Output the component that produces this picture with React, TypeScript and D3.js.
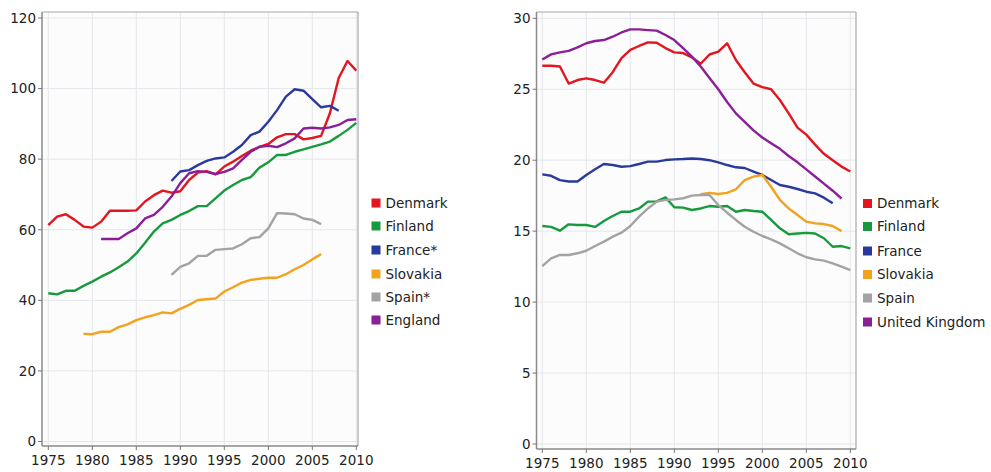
import React from "react";
import * as d3 from "d3";

const YEARS_ALL: number[] = d3.range(1975, 2011);

// Left chart series (start year + values)
const leftDenmarkStart = 1975;
const leftDenmark = [61.3, 63.7, 64.4, 62.8, 60.9, 60.6, 62.3, 65.4, 65.4, 65.4, 65.5, 68, 69.8, 71.1, 70.5, 70.9, 74.1, 76.2, 76.6, 75.7, 77.9, 79.3, 80.9, 82.4, 83.5, 84.3, 86.2, 87.1, 87.1, 85.6, 86, 86.6, 93, 103, 107.8, 105.1];
const leftFinlandStart = 1975;
const leftFinland = [42, 41.7, 42.7, 42.7, 44.1, 45.3, 46.7, 47.9, 49.4, 51, 53.3, 56.3, 59.5, 61.8, 62.8, 64.2, 65.3, 66.7, 66.7, 68.9, 71.1, 72.7, 74.1, 74.9, 77.6, 79.1, 81.2, 81.2, 82.1, 82.8, 83.5, 84.2, 85, 86.6, 88.3, 90.3];
const leftFranceStart = 1989;
const leftFrance = [73.8, 76.5, 76.9, 78.3, 79.5, 80.2, 80.5, 82.1, 84, 86.8, 87.8, 90.6, 93.9, 97.7, 99.8, 99.4, 97, 94.7, 95.1, 93.7];
const leftSlovakiaStart = 1979;
const leftSlovakia = [30.5, 30.4, 31.1, 31.1, 32.4, 33.2, 34.4, 35.2, 35.8, 36.6, 36.3, 37.6, 38.7, 40.1, 40.3, 40.5, 42.5, 43.7, 45, 45.8, 46.1, 46.4, 46.4, 47.4, 48.8, 50, 51.6, 53.1];
const leftSpainStart = 1989;
const leftSpain = [47.2, 49.5, 50.5, 52.6, 52.6, 54.3, 54.5, 54.7, 55.9, 57.6, 57.9, 60.4, 64.7, 64.6, 64.4, 63.2, 62.8, 61.6];
const leftEnglandStart = 1981;
const leftEngland = [57.4, 57.4, 57.4, 59, 60.4, 63.2, 64.2, 66.5, 69.4, 73.2, 76, 76.6, 76.4, 75.8, 76.4, 77.4, 79.8, 82.1, 83.5, 83.8, 83.4, 84.5, 85.9, 88.7, 88.9, 88.7, 89, 89.7, 91.1, 91.3];

// Right chart series
const rightDenmark = [26.66, 26.66, 26.6, 25.4, 25.65, 25.77, 25.65, 25.46, 26.2, 27.2, 27.77, 28.05, 28.3, 28.28, 27.9, 27.6, 27.55, 27.25, 26.8, 27.45, 27.65, 28.24, 27.06, 26.2, 25.4, 25.15, 25.0, 24.24, 23.3, 22.3, 21.8, 21.1, 20.45, 20.0, 19.55, 19.2];
const rightFinland = [15.36, 15.3, 15.03, 15.48, 15.43, 15.43, 15.3, 15.71, 16.07, 16.37, 16.37, 16.6, 17.08, 17.1, 17.38, 16.68, 16.66, 16.49, 16.6, 16.77, 16.72, 16.77, 16.37, 16.49, 16.42, 16.37, 15.79, 15.2, 14.78, 14.83, 14.88, 14.83, 14.5, 13.9, 13.95, 13.79];
const rightFranceStart = 1975;
const rightFrance = [19.0, 18.9, 18.6, 18.5, 18.5, 18.96, 19.36, 19.73, 19.66, 19.54, 19.58, 19.73, 19.9, 19.9, 20.01, 20.06, 20.08, 20.12, 20.08, 20.0, 19.85, 19.66, 19.5, 19.45, 19.2, 18.96, 18.6, 18.25, 18.13, 17.97, 17.78, 17.66, 17.36, 16.96];
const rightSlovakiaStart = 1993;
const rightSlovakia = [17.6, 17.7, 17.62, 17.7, 17.95, 18.6, 18.84, 18.96, 18.13, 17.2, 16.6, 16.14, 15.67, 15.55, 15.5, 15.36, 15.0];
const rightSpain = [12.54, 13.08, 13.32, 13.32, 13.44, 13.62, 13.95, 14.26, 14.61, 14.89, 15.36, 16.02, 16.6, 17.08, 17.2, 17.24, 17.32, 17.5, 17.55, 17.55, 16.84, 16.3, 15.79, 15.31, 14.96, 14.66, 14.42, 14.14, 13.79, 13.44, 13.16, 13.01, 12.92, 12.73, 12.5, 12.26];
const rightUK = [27.1, 27.46, 27.6, 27.7, 27.95, 28.24, 28.4, 28.47, 28.7, 29.0, 29.22, 29.22, 29.17, 29.13, 28.82, 28.47, 27.9, 27.3, 26.6, 25.8, 25.0, 24.1, 23.3, 22.7, 22.1, 21.6, 21.2, 20.8, 20.3, 19.85, 19.35, 18.85, 18.35, 17.85, 17.3];

const xTicks = [1975, 1980, 1985, 1990, 1995, 2000, 2005, 2010];
const leftYTicks = [0, 20, 40, 60, 80, 100, 120];
const rightYTicks = [0, 5, 10, 15, 20, 25, 30];

const leftLegend = ["Denmark", "Finland", "France*", "Slovakia", "Spain*", "England"];
const rightLegend = ["Denmark", "Finland", "France", "Slovakia", "Spain", "United Kingdom"];

const COLORS = ["#e3161f", "#179a3e", "#2a3a9c", "#f2a21e", "#a3a3a3", "#8a1f98"];

type Series = { start: number; values: number[] };

const leftSeries: Series[] = [
  { start: leftDenmarkStart, values: leftDenmark },
  { start: leftFinlandStart, values: leftFinland },
  { start: leftFranceStart, values: leftFrance },
  { start: leftSlovakiaStart, values: leftSlovakia },
  { start: leftSpainStart, values: leftSpain },
  { start: leftEnglandStart, values: leftEngland },
];
const rightSeries: Series[] = [
  { start: 1975, values: rightDenmark },
  { start: 1975, values: rightFinland },
  { start: rightFranceStart, values: rightFrance },
  { start: rightSlovakiaStart, values: rightSlovakia },
  { start: 1975, values: rightSpain },
  { start: 1975, values: rightUK },
];

const FONT = "'DejaVu Sans', Verdana, sans-serif";

type PanelProps = {
  series: Series[];
  legend: string[];
  yTicks: number[];
  yMax: number;
  frame: { left: number; right: number; top: number; bottom: number };
  xRange: [number, number];
  yRange: [number, number];
  legendX: number;
  legendY: number[];
};

function Panel(p: PanelProps) {
  const x = d3.scaleLinear().domain([1975, 2010]).range(p.xRange);
  const y = d3.scaleLinear().domain([0, p.yMax]).range(p.yRange);
  const line = d3
    .line<[number, number]>()
    .x((d) => x(d[0]))
    .y((d) => y(d[1]))
    .curve(d3.curveLinear);
  const f = p.frame;
  return (
    <g>
      <rect x={f.left} y={f.top} width={f.right - f.left} height={f.bottom - f.top} fill="#fcfcfc" />
      {xTicks.map((t) => (
        <line key={"gx" + t} x1={x(t)} x2={x(t)} y1={f.top} y2={f.bottom} stroke="#e4e6ea" strokeWidth={1} />
      ))}
      {p.yTicks.map((t) => (
        <line key={"gy" + t} x1={f.left} x2={f.right} y1={y(t)} y2={y(t)} stroke="#e4e6ea" strokeWidth={1} />
      ))}
      <line x1={f.left} x2={f.right} y1={f.top} y2={f.top} stroke="#a8a8a8" strokeWidth={1.2} />
      <line x1={f.right} x2={f.right} y1={f.top} y2={f.bottom} stroke="#a8a8a8" strokeWidth={1.2} />
      <line x1={f.left} x2={f.left} y1={f.top} y2={f.bottom} stroke="#8a8a8a" strokeWidth={1.5} />
      <line x1={f.left} x2={f.right} y1={f.bottom} y2={f.bottom} stroke="#8a8a8a" strokeWidth={1.5} />
      {p.yTicks.map((t) => (
        <g key={"ty" + t}>
          <line x1={f.left - 4} x2={f.left} y1={y(t)} y2={y(t)} stroke="#777" strokeWidth={1} />
          <text x={f.left - 6} y={y(t)} dy="0.36em" textAnchor="end" fontFamily={FONT} fontSize={13.5} fill="#222">
            {t}
          </text>
        </g>
      ))}
      {xTicks.map((t) => (
        <g key={"tx" + t}>
          <line x1={x(t)} x2={x(t)} y1={f.bottom} y2={f.bottom + 4} stroke="#777" strokeWidth={1} />
          <text x={x(t)} y={f.bottom + 19} textAnchor="middle" fontFamily={FONT} fontSize={13.5} fill="#222">
            {t}
          </text>
        </g>
      ))}
      {p.series.map((s, i) => {
        const pts: [number, number][] = s.values.map((v, k) => [s.start + k, v]);
        return (
          <path key={"s" + i} d={line(pts) || ""} fill="none" stroke={COLORS[i]} strokeWidth={2.4} strokeLinejoin="round" />
        );
      })}
      {p.legend.map((name, i) => (
        <g key={"lg" + i}>
          <rect x={p.legendX} y={p.legendY[i] - 4.5} width={9} height={9} fill={COLORS[i]} />
          <text x={p.legendX + 14} y={p.legendY[i]} dy="0.36em" fontFamily={FONT} fontSize={13.5} fill="#222">
            {name}
          </text>
        </g>
      ))}
    </g>
  );
}

export default function App() {
  const legendRowsL = [203, 226, 250, 274, 297, 320];
  const legendRowsR = [203.5, 226.5, 251, 274.5, 298, 322];
  return (
    <svg width={991} height={472} style={{ position: "absolute", left: 0, top: 0, background: "#fff" }}>
      <rect width={991} height={472} fill="#fff" />
      <Panel
        series={leftSeries}
        legend={leftLegend}
        yTicks={leftYTicks}
        yMax={120}
        frame={{ left: 42, right: 358, top: 12, bottom: 446 }}
        xRange={[48.3, 356.3]}
        yRange={[441.5, 18]}
        legendX={371.5}
        legendY={legendRowsL}
      />
      <Panel
        series={rightSeries}
        legend={rightLegend}
        yTicks={rightYTicks}
        yMax={30}
        frame={{ left: 536.5, right: 856, top: 12, bottom: 449 }}
        xRange={[542.3, 850.3]}
        yRange={[444, 18.3]}
        legendX={863}
        legendY={legendRowsR}
      />
    </svg>
  );
}
